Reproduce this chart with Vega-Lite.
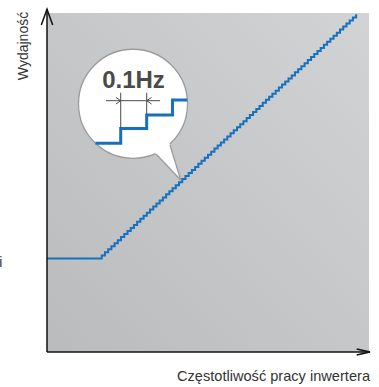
{
  "$schema": "https://vega.github.io/schema/vega-lite/v6.json",
  "width": 322,
  "height": 339,
  "autosize": {"type": "none"},
  "padding": {"left": 47, "top": 13, "right": 10, "bottom": 35},
  "background": "white",
  "config": {"view": {"stroke": null}},
  "datasets": {
    "bg": [{"f": 0, "f2": 100, "p": 0, "p2": 100}],
    "perf": [
      {"f": 0, "p": 27.6},
      {"f": 17, "p": 28.5}, {"f": 18, "p": 29.4}, {"f": 19, "p": 30.3}, {"f": 20, "p": 31.2}, {"f": 21, "p": 32.1},
      {"f": 22, "p": 33.0}, {"f": 23, "p": 33.9}, {"f": 24, "p": 34.8}, {"f": 25, "p": 35.7}, {"f": 26, "p": 36.6},
      {"f": 27, "p": 37.5}, {"f": 28, "p": 38.4}, {"f": 29, "p": 39.3}, {"f": 30, "p": 40.2}, {"f": 31, "p": 41.1},
      {"f": 32, "p": 42.0}, {"f": 33, "p": 42.9}, {"f": 34, "p": 43.8}, {"f": 35, "p": 44.7}, {"f": 36, "p": 45.6},
      {"f": 37, "p": 46.5}, {"f": 38, "p": 47.4}, {"f": 39, "p": 48.3}, {"f": 40, "p": 49.2}, {"f": 41, "p": 50.1},
      {"f": 42, "p": 51.0}, {"f": 43, "p": 51.9}, {"f": 44, "p": 52.8}, {"f": 45, "p": 53.7}, {"f": 46, "p": 54.6},
      {"f": 47, "p": 55.5}, {"f": 48, "p": 56.4}, {"f": 49, "p": 57.3}, {"f": 50, "p": 58.2}, {"f": 51, "p": 59.1},
      {"f": 52, "p": 60.0}, {"f": 53, "p": 60.9}, {"f": 54, "p": 61.8}, {"f": 55, "p": 62.7}, {"f": 56, "p": 63.6},
      {"f": 57, "p": 64.5}, {"f": 58, "p": 65.4}, {"f": 59, "p": 66.3}, {"f": 60, "p": 67.2}, {"f": 61, "p": 68.1},
      {"f": 62, "p": 69.0}, {"f": 63, "p": 69.9}, {"f": 64, "p": 70.8}, {"f": 65, "p": 71.7}, {"f": 66, "p": 72.6},
      {"f": 67, "p": 73.5}, {"f": 68, "p": 74.4}, {"f": 69, "p": 75.3}, {"f": 70, "p": 76.2}, {"f": 71, "p": 77.1},
      {"f": 72, "p": 78.0}, {"f": 73, "p": 78.9}, {"f": 74, "p": 79.8}, {"f": 75, "p": 80.7}, {"f": 76, "p": 81.6},
      {"f": 77, "p": 82.5}, {"f": 78, "p": 83.4}, {"f": 79, "p": 84.3}, {"f": 80, "p": 85.2}, {"f": 81, "p": 86.1},
      {"f": 82, "p": 87.0}, {"f": 83, "p": 87.9}, {"f": 84, "p": 88.8}, {"f": 85, "p": 89.7}, {"f": 86, "p": 90.6},
      {"f": 87, "p": 91.5}, {"f": 88, "p": 92.4}, {"f": 89, "p": 93.3}, {"f": 90, "p": 94.2}, {"f": 91, "p": 95.1},
      {"f": 92, "p": 96.0}, {"f": 93, "p": 96.9}, {"f": 94, "p": 97.8}, {"f": 95, "p": 98.7}, {"f": 96, "p": 99.6}
    ],
    "bubble": [{"f": 26.71, "p": 73.22}],
    "tailfill": [
      {"f": 32.92, "p": 59.32, "p2": 59.32},
      {"f": 37.86, "p": 62.09, "p2": 54.39},
      {"f": 41.52, "p": 50.74, "p2": 50.74}
    ],
    "taillines": [
      {"s": "a", "o": 1, "f": 33.85, "p": 58.41}, {"s": "a", "o": 2, "f": 41.52, "p": 50.74},
      {"s": "b", "o": 1, "f": 38.2, "p": 61.06}, {"s": "b", "o": 2, "f": 41.52, "p": 50.74}
    ],
    "zoomstep": [
      {"o": 1, "f": 15.06, "p": 61.56}, {"o": 2, "f": 22.89, "p": 61.56},
      {"o": 3, "f": 22.89, "p": 65.93}, {"o": 4, "f": 30.96, "p": 65.93},
      {"o": 5, "f": 30.96, "p": 69.91}, {"o": 6, "f": 38.98, "p": 69.91},
      {"o": 7, "f": 38.98, "p": 74.34}, {"o": 8, "f": 43.6, "p": 74.34}
    ],
    "dims": [
      {"s": "v1", "o": 1, "f": 22.89, "p": 76.49}, {"s": "v1", "o": 2, "f": 22.89, "p": 65.93},
      {"s": "v2", "o": 1, "f": 30.96, "p": 76.49}, {"s": "v2", "o": 2, "f": 30.96, "p": 69.91},
      {"s": "h", "o": 1, "f": 18.32, "p": 74.13}, {"s": "h", "o": 2, "f": 35.09, "p": 74.13},
      {"s": "c1", "o": 1, "f": 21.43, "p": 75.07}, {"s": "c1", "o": 2, "f": 22.89, "p": 74.13}, {"s": "c1", "o": 3, "f": 21.43, "p": 73.16},
      {"s": "c2", "o": 1, "f": 32.45, "p": 75.07}, {"s": "c2", "o": 2, "f": 30.96, "p": 74.13}, {"s": "c2", "o": 3, "f": 32.45, "p": 73.16}
    ],
    "axes": [
      {"s": "y", "o": 1, "f": 0, "p": 0}, {"s": "y", "o": 2, "f": 0, "p": 101.1},
      {"s": "ya", "o": 1, "f": -1.77, "p": 96.46}, {"s": "ya", "o": 2, "f": 0, "p": 101.1}, {"s": "ya", "o": 3, "f": 1.77, "p": 96.46},
      {"s": "x", "o": 1, "f": 0, "p": 0}, {"s": "x", "o": 2, "f": 100.31, "p": 0},
      {"s": "xa", "o": 1, "f": 96.18, "p": 0.9}, {"s": "xa", "o": 2, "f": 100.31, "p": 0}, {"s": "xa", "o": 3, "f": 96.18, "p": -0.9}
    ],
    "hz": [{"f": 26.86, "p": 77.88, "t": "0.1Hz"}],
    "ylab": [{"f": -5.75, "p": 90.27, "t": "Wydajność"}],
    "xlab": [{"f": 100.31, "p": -8.47, "t": "Częstotliwość pracy inwertera"}],
    "cut": [{"f": -13.82, "p": 25.16, "t": "i"}]
  },
  "encoding": {
    "x": {"field": "f", "type": "quantitative", "scale": {"domain": [0, 100], "nice": false, "zero": false}, "axis": null},
    "y": {"field": "p", "type": "quantitative", "scale": {"domain": [0, 100], "nice": false, "zero": false}, "axis": null}
  },
  "layer": [
    {
      "data": {"name": "bg"},
      "mark": {"type": "rect", "fill": {"gradient": "linear", "x1": 0, "y1": 1, "x2": 1, "y2": 0, "stops": [{"offset": 0, "color": "#babbbd"}, {"offset": 1, "color": "#d2d3d5"}]}},
      "encoding": {"x2": {"field": "f2"}, "y2": {"field": "p2"}}
    },
    {
      "data": {"name": "perf"},
      "mark": {"type": "line", "interpolate": "step-after", "color": "#1570c0", "strokeWidth": 2},
      "encoding": {"order": {"field": "f", "type": "quantitative"}}
    },
    {
      "data": {"name": "bubble"},
      "mark": {"type": "point", "shape": "circle", "filled": true, "fill": "white", "fillOpacity": 1, "opacity": 1, "stroke": "#9c9c9c", "strokeWidth": 1.3, "size": 11881}
    },
    {
      "data": {"name": "tailfill"},
      "mark": {"type": "area", "color": "white", "opacity": 1},
      "encoding": {"y2": {"field": "p2"}}
    },
    {
      "data": {"name": "taillines"},
      "mark": {"type": "line", "color": "#9c9c9c", "strokeWidth": 1.3},
      "encoding": {"detail": {"field": "s"}, "order": {"field": "o", "type": "quantitative"}}
    },
    {
      "data": {"name": "zoomstep"},
      "mark": {"type": "line", "color": "#1570c0", "strokeWidth": 3, "strokeCap": "butt", "strokeJoin": "miter"},
      "encoding": {"order": {"field": "o", "type": "quantitative"}}
    },
    {
      "data": {"name": "dims"},
      "mark": {"type": "line", "color": "#4a4a4a", "strokeWidth": 1},
      "encoding": {"detail": {"field": "s"}, "order": {"field": "o", "type": "quantitative"}}
    },
    {
      "data": {"name": "axes"},
      "mark": {"type": "line", "color": "#111111", "strokeWidth": 1.5},
      "encoding": {"detail": {"field": "s"}, "order": {"field": "o", "type": "quantitative"}}
    },
    {
      "data": {"name": "hz"},
      "mark": {"type": "text", "font": "Liberation Sans", "fontWeight": "bold", "fontSize": 24, "fill": "#4a4a4a", "align": "center", "baseline": "alphabetic"},
      "encoding": {"text": {"field": "t"}}
    },
    {
      "data": {"name": "ylab"},
      "mark": {"type": "text", "font": "Liberation Sans", "fontSize": 14, "fill": "#333333", "align": "center", "baseline": "alphabetic", "angle": 270},
      "encoding": {"text": {"field": "t"}}
    },
    {
      "data": {"name": "xlab"},
      "mark": {"type": "text", "font": "Liberation Sans", "fontSize": 14.6, "fill": "#333333", "align": "right", "baseline": "alphabetic"},
      "encoding": {"text": {"field": "t"}}
    },
    {
      "data": {"name": "cut"},
      "mark": {"type": "text", "font": "Liberation Sans", "fontSize": 14, "fill": "#333333", "align": "right", "baseline": "alphabetic"},
      "encoding": {"text": {"field": "t"}}
    }
  ]
}
